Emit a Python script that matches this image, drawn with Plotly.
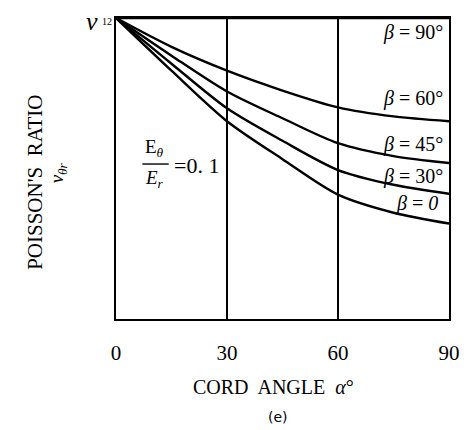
import plotly.graph_objects as go

alpha = [0, 15, 30, 45, 60, 75, 90]
nu_b90 = [1.0, 1.0, 1.0, 1.0, 1.0, 1.0, 1.0]
nu_b60 = [1.0, 0.904, 0.825, 0.759, 0.703, 0.673, 0.657]
nu_b45 = [1.0, 0.875, 0.756, 0.667, 0.584, 0.541, 0.518]
nu_b30 = [1.0, 0.848, 0.700, 0.592, 0.495, 0.446, 0.416]
nu_b0 = [1.0, 0.825, 0.657, 0.531, 0.413, 0.353, 0.317]
x_ticks = [0, 30, 60, 90]
x_ticklabels = ["0", "30", "60", "90"]

OFF = 8  # page body margin in the browser
W, H = 468 - OFF, 430 - OFF
L, R, T, B = 116 - OFF, 457 - OFF, 16 - OFF, 319 - OFF

def px(x):
    return (x - OFF - L) / (R - L)

def py(y):
    return (B - (y - OFF)) / (B - T)

fig = go.Figure()
for ys in [nu_b90, nu_b60, nu_b45, nu_b30, nu_b0]:
    fig.add_trace(go.Scatter(x=alpha, y=ys, mode="lines",
                             line=dict(color="black", width=2.4, shape="spline", smoothing=0.8),
                             showlegend=False, hoverinfo="skip"))

SERIF = "Liberation Serif"

fig.update_layout(
    width=W, height=H,
    margin=dict(l=L, r=W - R, t=T, b=H - B),
    paper_bgcolor="white", plot_bgcolor="white",
    showlegend=False,
    xaxis=dict(range=[0, 90], tickvals=x_ticks, ticktext=x_ticklabels,
               showgrid=True, gridcolor="black", gridwidth=1.6,
               showline=True, linecolor="black", linewidth=2.2, mirror=True,
               ticks="", ticklabelstandoff=14, zeroline=False,
               tickfont=dict(family=SERIF, size=21, color="black")),
    yaxis=dict(range=[0, 1], showgrid=False, showticklabels=False,
               showline=True, linecolor="black", linewidth=2.2, mirror=True,
               ticks="", zeroline=False),
)

ann = []
def add(text, x, y, size=18, xanchor="center", yanchor="middle", angle=0, family=SERIF):
    ann.append(dict(text=text, x=px(x), y=py(y), xref="paper", yref="paper",
                    xanchor=xanchor, yanchor=yanchor, showarrow=False, textangle=angle,
                    font=dict(family=family, size=size, color="black")))

# beta labels
add("<i>β</i> = 90°", 453, 31, size=20, xanchor="right")
add("<i>β</i> = 60°", 453, 97, size=20, xanchor="right")
add("<i>β</i> = 45°", 453, 143, size=20, xanchor="right")
add("<i>β</i> = 30°", 453, 176, size=20, xanchor="right")
add("<i>β</i> = <i>0</i>", 448, 203, size=20, xanchor="right")

# nu12 label
add("<i>ν</i>", 100, 20, size=26, xanchor="right")
add("12", 100, 20, size=10, xanchor="left")

# y title
add("POISSON'S  RATIO", 33, 181, size=21, angle=-90)
add("<i>ν</i><sub><i>θr</i></sub>", 57, 172, size=19, angle=-90)

# ratio annotation
add("E<sub><i>θ</i></sub>", 155, 147, size=19)
add("<i>E<sub>r</sub></i>", 155, 178, size=19)
add("=0. 1", 198, 164, size=22)

# x title
add("CORD  ANGLE  <i>α</i>°", 277, 387, size=20)
add("(e)", 282, 418, size=14, family="DejaVu Sans")

fig.update_layout(annotations=ann)
fig.add_shape(type="line", xref="paper", yref="paper",
              x0=px(143), x1=px(170), y0=py(163), y1=py(163),
              line=dict(color="black", width=1.4))

fig.write_html("out.html")
